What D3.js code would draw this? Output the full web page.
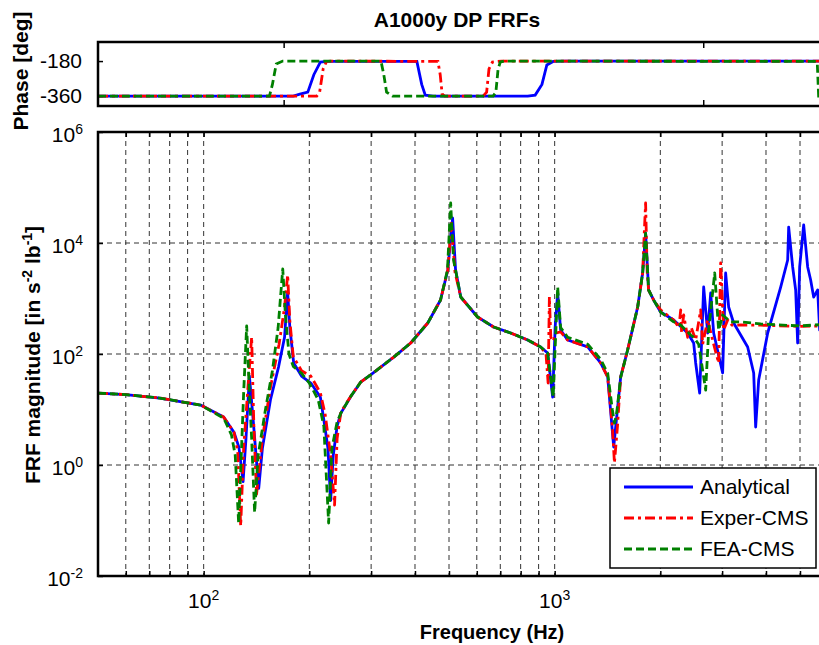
<!DOCTYPE html>
<html>
<head>
<meta charset="utf-8">
<script src="https://cdn.jsdelivr.net/npm/d3@7"></script>
<style>
  body { margin: 0; background: #fff; }
  text { font-family: Arial, "Liberation Sans", sans-serif; fill: #000; }
</style>
</head>
<body>
<div id="chart"></div>
<script>
// ---- data (frequency in Hz, magnitude in in s^-2 lb^-1, phase in deg)
const seriesNames = ["Analytical", "Exper-CMS", "FEA-CMS"];

const analyticalMag = [
  [50, 19.8], [60, 18.5], [75, 16.1], [98, 12], [114, 7.3], [122, 3.9], [126, 2.1], [129.5, 0.5],
  [132, 3], [135, 40], [138, 8], [143.5, 0.38], [147, 2], [155, 15], [163.6, 60], [170, 200],
  [173.5, 1300], [176, 300], [180.5, 69], [190, 40], [202, 30], [215, 16.8], [220, 6.5], [226, 2],
  [230, 0.23], [234, 1.5], [240, 5], [246, 8.6], [262, 16.8], [280, 31], [299, 42], [348, 88],
  [389, 158], [435, 362], [473, 940], [496, 3267], [512, 28200], [522, 3267], [540, 1064],
  [603, 464], [670, 306], [749, 239], [838, 179], [912, 134], [955, 104], [987, 16.8], [1003, 300],
  [1020, 1256], [1040, 270], [1089, 179], [1242, 134], [1352, 68.9], [1416, 38.6], [1473, 2.11],
  [1542, 38.6], [1614, 118], [1724, 703], [1781, 2879], [1816, 15100], [1852, 1423], [1914, 940],
  [2004, 571], [2183, 410], [2393, 239], [2489, 158], [2522, 69], [2589, 19.8], [2658, 1611],
  [2729, 239], [2783, 1256], [2838, 239], [3010, 45.5], [3070, 2879], [3131, 703], [3236, 362],
  [3547, 134], [3690, 45.5], [3738, 4.84], [3813, 34], [4045, 239], [4405, 1611], [4612, 4943],
  [4642, 19400], [4765, 3698], [4860, 1423], [4924, 158], [4989, 3698], [5122, 21100], [5258, 3698],
  [5362, 2153], [5469, 1064], [5614, 1423], [5689, 270], [5800, 250]
];

const experMag = [
  [50, 19.8], [60, 18.5], [75, 16.1], [98, 12], [114, 7.3], [122, 3.9], [125, 1.8], [127.5, 0.08],
  [130, 2], [134, 30], [137, 202], [139, 5], [141.5, 0.3], [147, 3], [155, 25], [164, 150],
  [170, 700], [173.5, 2650], [176, 400], [180, 90], [190, 50], [202, 40], [215, 20], [222, 8],
  [230, 1.5], [236, 0.19], [240, 3], [246, 9], [262, 17], [280, 31], [299, 42], [348, 88],
  [389, 158], [435, 362], [473, 940], [496, 3267], [508, 22900], [520, 3000], [540, 1064],
  [603, 464], [670, 306], [749, 239], [838, 179], [912, 134], [945, 100], [958, 30], [966, 1064],
  [975, 200], [990, 170], [1010, 239], [1040, 250], [1089, 179], [1242, 134], [1352, 68.9],
  [1416, 38.6], [1460, 5], [1480, 1.09], [1510, 5], [1542, 38.6], [1614, 118], [1724, 703],
  [1781, 2879], [1800, 15000], [1816, 52600], [1835, 3000], [1852, 1423], [1914, 940], [2004, 621],
  [2183, 410], [2260, 300], [2286, 621], [2300, 239], [2331, 504], [2393, 200], [2450, 300],
  [2522, 180], [2606, 621], [2640, 150], [2729, 410], [2838, 150], [2932, 69], [2971, 4365],
  [3030, 270], [3111, 410], [3200, 330], [3388, 334], [3864, 330], [4989, 315], [5800, 320]
];

const feaMag = [
  [50, 19.8], [60, 18.5], [75, 16.1], [98, 12], [114, 7], [120, 3.5], [123, 1.5], [125.8, 0.09],
  [128, 1.5], [130, 20], [132.6, 320], [135, 20], [137, 3], [139.7, 0.14], [143, 1.5], [150, 10],
  [157, 50], [163, 300], [168, 3400], [171, 500], [175, 100], [180, 60], [190, 45], [200, 30],
  [212, 15], [220, 5], [227, 0.09], [232, 2], [240, 6], [246, 8.6], [262, 17], [280, 31], [299, 42],
  [348, 88], [389, 158], [435, 362], [473, 940], [495, 3267], [505.5, 52600], [515, 5000],
  [522, 3267], [540, 1064], [603, 464], [670, 306], [749, 239], [838, 179], [912, 134], [955, 104],
  [990, 16.8], [1020, 1611], [1040, 300], [1089, 200], [1242, 150], [1352, 80], [1416, 45],
  [1460, 10], [1480, 5.7], [1500, 8], [1542, 38], [1614, 118], [1724, 703], [1781, 2879],
  [1816, 15100], [1852, 1423], [1914, 940], [2004, 571], [2183, 380], [2286, 334], [2441, 220],
  [2489, 200], [2572, 150], [2693, 22.4], [2747, 270], [2857, 2879], [2932, 270], [3010, 504],
  [3173, 380], [3388, 378], [3864, 348], [4989, 320], [5800, 340]
];

const analyticalPhase = [
  [50, -360], [180, -360], [188, -350], [198, -340], [206, -250], [215, -185], [225, -182],
  [405, -182], [418, -300], [428, -355], [450, -360], [838, -360], [880, -355], [920, -300],
  [950, -200], [990, -182], [1075, -180], [5800, -180]
];

const experPhase = [
  [50, -360], [210, -360], [214, -340], [219, -220], [224, -182], [230, -180], [465, -182],
  [472, -250], [478, -350], [486, -360], [625, -360], [640, -340], [650, -220], [665, -185],
  [706, -180], [5800, -180]
];

const feaPhase = [
  [50, -360], [154, -360], [157, -300], [161, -195], [168, -180], [320, -180], [326, -250],
  [332, -340], [345, -360], [668, -360], [680, -340], [690, -220], [700, -185], [720, -180],
  [5560, -182], [5600, -190], [5650, -360], [5800, -360]
];

const xMajorTicks = [100, 1000];
const xAllTicks = [60, 70, 80, 90, 100, 200, 300, 400, 500, 600, 700, 800, 900,
                   1000, 2000, 3000, 4000, 5000];
const magTicks = [1e-2, 1, 1e2, 1e4, 1e6];
const magGrid = [1, 1e2, 1e4];
const phaseTicks = [-360, -180];
const phaseXTicks = [169, 2650];

// ---- layout
const width = 819, height = 645;
const left = 98, pxPerDecade = 351;

const styles = [
  {color: "#0000ff", dash: null},
  {color: "#ff0000", dash: "10,4,3,4"},
  {color: "#008000", dash: "8,4"}
];

let svg = d3.select("#chart").append("svg")
            .attr("width", width)
            .attr("height", height);

let xScale = d3.scaleLog()
               .domain([50, 5800])
               .range([left, left + pxPerDecade * Math.log10(5800 / 50)]);
let magScale = d3.scaleLog().domain([1e-2, 1e6]).range([576, 132]);
let phaseScale = d3.scaleLinear().domain([-411, -82]).range([106, 42]);

const x0 = xScale.range()[0], x1 = xScale.range()[1];

function sup_label(selection, base, exp){
  selection.append("tspan").text(base);
  selection.append("tspan").attr("font-size", "14px").attr("dy", -8).text(exp);
}

function clip(id, y0, y1){
  svg.append("clipPath").attr("id", id)
     .append("rect").attr("x", x0).attr("y", y0).attr("width", x1 - x0).attr("height", y1 - y0);
}
clip("clip-phase", 42, 106);
clip("clip-mag", 132, 576);

// ---- title
svg.append("text")
   .attr("x", 457).attr("y", 27)
   .attr("text-anchor", "middle")
   .attr("font-size", "21px").attr("font-weight", "bold")
   .text("A1000y DP FRFs");

// ---- phase subplot
let phase_g = svg.append("g");

phase_g.append("g")
       .attr("transform", `translate(${x0},0)`)
       .call(d3.axisLeft(phaseScale).tickValues(phaseTicks).tickSize(-5).tickSizeOuter(0)
               .tickPadding(16).tickFormat(d => String(d)))
       .call(g => g.select(".domain").remove())
       .call(g => g.selectAll("line").attr("stroke", "#000").attr("stroke-width", 1.5))
       .call(g => g.selectAll("text").attr("font-size", "21px").attr("font-family", null));

phase_g.append("g")
       .attr("transform", "translate(0,106)")
       .call(d3.axisBottom(xScale).tickValues(phaseXTicks).tickSize(-6).tickSizeOuter(0).tickFormat(""))
       .call(g => g.select(".domain").remove())
       .call(g => g.selectAll("line").attr("stroke", "#000").attr("stroke-width", 1.5));
phase_g.append("g")
       .attr("transform", "translate(0,42)")
       .call(d3.axisTop(xScale).tickValues(phaseXTicks).tickSize(-6).tickSizeOuter(0).tickFormat(""))
       .call(g => g.select(".domain").remove())
       .call(g => g.selectAll("line").attr("stroke", "#000").attr("stroke-width", 1.5));

let phaseLine = d3.line().x(d => xScale(d[0])).y(d => phaseScale(d[1]));
[analyticalPhase, experPhase, feaPhase].forEach((data, i) => {
  phase_g.append("path")
         .datum(data)
         .attr("clip-path", "url(#clip-phase)")
         .attr("fill", "none")
         .attr("stroke", styles[i].color)
         .attr("stroke-width", 2.8)
         .attr("stroke-dasharray", styles[i].dash)
         .attr("d", phaseLine);
});

phase_g.append("rect")
       .attr("x", x0).attr("y", 42)
       .attr("width", x1 - x0).attr("height", 64)
       .attr("fill", "none").attr("stroke", "#000").attr("stroke-width", 2.5);

svg.append("text")
   .attr("transform", "translate(28,71) rotate(-90)")
   .attr("text-anchor", "middle")
   .attr("font-size", "21px").attr("font-weight", "bold")
   .text("Phase [deg]");

// ---- magnitude subplot
let mag_g = svg.append("g");

// grid
mag_g.selectAll(".xgrid").data(xAllTicks).enter()
     .append("line")
     .attr("x1", d => xScale(d)).attr("x2", d => xScale(d))
     .attr("y1", 132).attr("y2", 576)
     .attr("stroke", "#333").attr("stroke-width", 1).attr("stroke-dasharray", "5,4");
mag_g.selectAll(".ygrid").data(magGrid).enter()
     .append("line")
     .attr("x1", x0).attr("x2", x1)
     .attr("y1", d => magScale(d)).attr("y2", d => magScale(d))
     .attr("stroke", "#333").attr("stroke-width", 1).attr("stroke-dasharray", "5,4");

// ticks
mag_g.append("g")
     .attr("transform", "translate(0,576)")
     .call(d3.axisBottom(xScale).tickValues(xAllTicks).tickSize(-5).tickSizeOuter(0).tickFormat(""))
     .call(g => g.select(".domain").remove())
     .call(g => g.selectAll("line").attr("stroke", "#000").attr("stroke-width", 1.5));
mag_g.append("g")
     .attr("transform", "translate(0,132)")
     .call(d3.axisTop(xScale).tickValues(xAllTicks).tickSize(-5).tickSizeOuter(0).tickFormat(""))
     .call(g => g.select(".domain").remove())
     .call(g => g.selectAll("line").attr("stroke", "#000").attr("stroke-width", 1.5));
mag_g.append("g")
     .attr("transform", `translate(${x0},0)`)
     .call(d3.axisLeft(magScale).tickValues(magTicks).tickSize(-5).tickSizeOuter(0).tickFormat(""))
     .call(g => g.select(".domain").remove())
     .call(g => g.selectAll("line").attr("stroke", "#000").attr("stroke-width", 1.5));

// tick labels
mag_g.selectAll(".ylab").data(magTicks).enter()
     .append("text")
     .attr("x", 83).attr("y", d => magScale(d) + 10)
     .attr("text-anchor", "end")
     .attr("font-size", "21px")
     .each(function(d){ d3.select(this).call(sup_label, "10", Math.round(Math.log10(d))); });
mag_g.selectAll(".xlab").data(xMajorTicks).enter()
     .append("text")
     .attr("x", d => xScale(d)).attr("y", 608)
     .attr("text-anchor", "middle")
     .attr("font-size", "21px")
     .each(function(d){ d3.select(this).call(sup_label, "10", Math.round(Math.log10(d))); });

// curves
let magLine = d3.line().x(d => xScale(d[0])).y(d => magScale(d[1]));
[analyticalMag, experMag, feaMag].forEach((data, i) => {
  mag_g.append("path")
       .datum(data)
       .attr("clip-path", "url(#clip-mag)")
       .attr("fill", "none")
       .attr("stroke", styles[i].color)
       .attr("stroke-width", 2.8)
       .attr("stroke-linejoin", "round")
       .attr("stroke-dasharray", styles[i].dash)
       .attr("d", magLine);
});

mag_g.append("rect")
     .attr("x", x0).attr("y", 132)
     .attr("width", x1 - x0).attr("height", 444)
     .attr("fill", "none").attr("stroke", "#000").attr("stroke-width", 2.5);

// axis labels
let ylab = svg.append("text")
              .attr("transform", "translate(40,355) rotate(-90)")
              .attr("text-anchor", "middle")
              .attr("font-size", "21px").attr("font-weight", "bold");
ylab.append("tspan").text("FRF magnitude [in s");
ylab.append("tspan").attr("font-size", "14px").attr("dy", -8).text("-2");
ylab.append("tspan").attr("dy", 8).text(" lb");
ylab.append("tspan").attr("font-size", "14px").attr("dy", -8).text("-1");
ylab.append("tspan").attr("dy", 8).text("]");

svg.append("text")
   .attr("x", 492).attr("y", 639)
   .attr("text-anchor", "middle")
   .attr("font-size", "20px").attr("font-weight", "bold")
   .text("Frequency (Hz)");

// ---- legend
let legend = svg.append("g").attr("transform", "translate(610,468)");
legend.append("rect")
      .attr("width", 206).attr("height", 100)
      .attr("fill", "#fff").attr("stroke", "#000").attr("stroke-width", 1.5);
let rows = legend.selectAll(".row").data(seriesNames).enter()
                 .append("g")
                 .attr("transform", (d, i) => `translate(0,${19 + i * 31})`);
rows.append("line")
    .attr("x1", 14).attr("x2", 83)
    .attr("stroke", (d, i) => styles[i].color)
    .attr("stroke-width", 3)
    .attr("stroke-dasharray", (d, i) => styles[i].dash);
rows.append("text")
    .attr("x", 90).attr("y", 7)
    .attr("font-size", "21px")
    .text(d => d);
</script>
</body>
</html>
